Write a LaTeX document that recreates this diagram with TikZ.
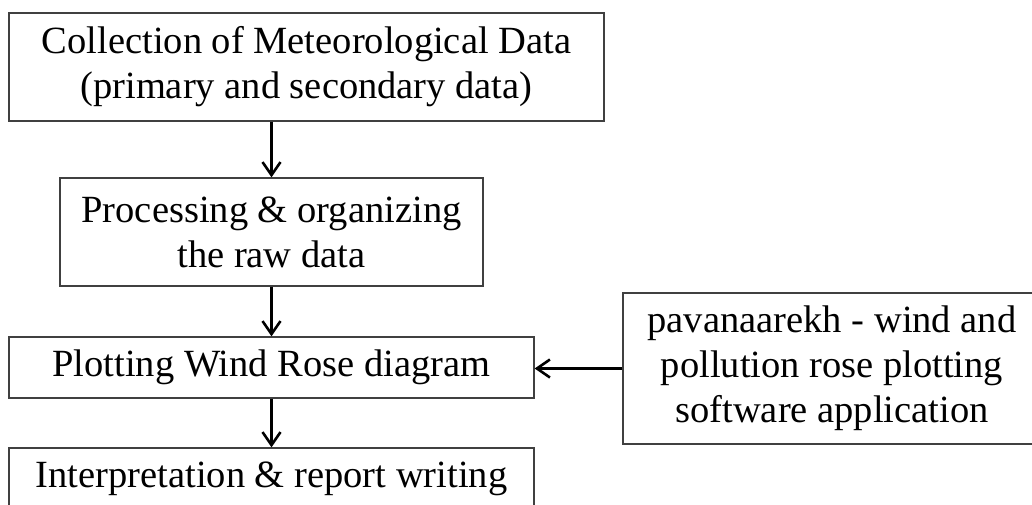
\documentclass[tikz,border=0pt]{standalone}
\usepackage{fontspec}
\setmainfont{Liberation Serif}
\usetikzlibrary{arrows.meta}
\tikzset{
  box/.style={draw=black!75, line width=1.3pt, align=center, inner sep=0pt,
    font=\fontsize{38.5}{45}\selectfont},
  flow/.style={draw=black, line width=2.6pt,
    -{Straight Barb[length=13pt,width=18pt,line width=2.6pt]}}
}
\begin{document}
\begin{tikzpicture}[x=1pt,y=-1pt]
  \useasboundingbox (0,0) rectangle (1032,505);
  \clip (0,0) rectangle (1032,505);
  % process steps
  \node[box, minimum width=595pt, minimum height=108pt] (collect) at (306.5,67)
    {Collection of Meteorological Data\\(primary and secondary data)};
  \node[box, minimum width=423pt, minimum height=108pt] (process) at (271.5,232)
    {Processing \& organizing\\the raw data};
  \node[box, minimum width=525pt, minimum height=61pt] (plot) at (271.5,367.5)
    {Plotting Wind Rose diagram};
  \node[box, minimum width=525pt, minimum height=61pt] (report) at (271.5,478.5)
    {Interpretation \& report writing};
  % software input
  \node[box, minimum width=418pt, minimum height=151pt] (soft) at (832,368.5)
    {pavanaarekh - wind and\\pollution rose plotting\\software application};
  % connectors
  \draw[flow] (process.north |- collect.south) -- (process.north);
  \draw[flow] (process.south) -- (plot.north);
  \draw[flow] (plot.south) -- (report.north);
  \draw[flow] (soft.west) -- (soft.west -| plot.east);
\end{tikzpicture}
\end{document}
